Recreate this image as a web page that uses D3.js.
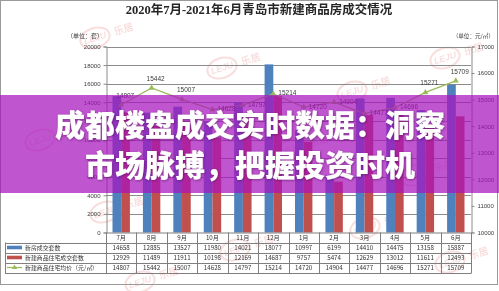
<!DOCTYPE html>
<html>
<head>
<meta charset="utf-8">
<script src="https://cdn.jsdelivr.net/npm/d3@7"></script>
<style>
  html, body { margin: 0; padding: 0; background: #fff; }
  svg { display: block; }
</style>
</head>
<body>
<svg id="chart" width="499" height="291"></svg>
<script>
// Monthly transactions, Qingdao, 2020-07 .. 2021-06
const months = ["7月","8月","9月","10月","11月","12月","1月","2月","3月","4月","5月","6月"];
const newHomeSales = [14658, 12885, 13527, 11980, 14021, 18077, 10997, 6199, 14410, 14475, 13158, 15887];
const residentialSales = [12929, 11489, 11911, 10198, 12169, 14687, 9757, 5474, 12629, 13012, 11611, 12493];
const residentialPrice = [14807, 15442, 15007, 14628, 14797, 15214, 14720, 14904, 14477, 14696, 15271, 15709];
const leftTicks = [0, 2000, 4000, 6000, 8000, 10000, 12000, 14000, 16000, 18000, 20000];
const rightTicks = [10000, 11000, 12000, 13000, 14000, 15000, 16000, 17000];
const seriesNames = ["新房成交套数", "新建商品住宅成交套数", "新建商品住宅均价（元/㎡）"];
// where each price label sits relative to its point
const priceLabelSide = ["top","top","top","right","right","right","right","right","right","right","top","top"];

const W = 499, H = 291;
const plot = { left: 106, right: 471, top: 46.5, bottom: 232.5 };
const COLORS = { blue: "#4f81bd", red: "#c0504d", green: "#9bbb59", grid: "#8c8c8c", text: "#404040" };
const SANS = "'Noto Sans CJK SC', 'Liberation Sans', sans-serif";

const svg = d3.select("#chart");
svg.append("rect").attr("width", W).attr("height", H).attr("fill", "#fff");

// faint site watermarks
const wmPos = [[95,38],[222,68],[352,92],[445,58],[40,140],[165,165],[290,150],[415,175],[105,212],[235,250],[365,228],[450,262],[140,282]];
const wm = svg.append("g").attr("opacity", 0.2);
wmPos.forEach(([cx, cy]) => {
  const g = wm.append("g").attr("transform", `translate(${cx},${cy}) rotate(-18)`);
  g.append("ellipse").attr("rx", 15).attr("ry", 10).attr("fill", "none")
    .attr("stroke", "#e05a5a").attr("stroke-width", 2);
  g.append("text").attr("x", 0).attr("y", 3).attr("text-anchor", "middle")
    .attr("font-family", "'Liberation Sans', sans-serif").attr("font-weight", 700)
    .attr("font-style", "italic").attr("font-size", 9).attr("fill", "#e05a5a").text("LEJU");
  g.append("text").attr("x", 20).attr("y", 4).attr("font-family", SANS).attr("font-weight", 700)
    .attr("font-size", 10).attr("fill", "#e05a5a").text("乐居");
});

// outer frame
svg.append("rect").attr("x", 0.5).attr("y", 0.5).attr("width", 497).attr("height", 284)
  .attr("fill", "none").attr("stroke", "#9a9a9a");

// title
svg.append("text").attr("x", 259).attr("y", 13.5).attr("text-anchor", "middle")
  .attr("font-family", "'Liberation Serif', 'Noto Sans CJK SC', serif").attr("font-weight", 700)
  .attr("font-size", 12.5).attr("fill", "#262626")
  .text("2020年7月-2021年6月青岛市新建商品房成交情况");

// unit labels
svg.append("text").attr("x", 103).attr("y", 37.5).attr("text-anchor", "end")
  .attr("font-family", SANS).attr("font-size", 6).attr("fill", COLORS.text).text("（单位：套）");
svg.append("text").attr("x", 494).attr("y", 37.5).attr("text-anchor", "end")
  .attr("font-family", SANS).attr("font-size", 5.6).attr("fill", COLORS.text).text("（单位：元/㎡）");

// scales
const x = d3.scaleBand().domain(months).range([plot.left, plot.right]);
const bw = x.bandwidth();
const sub = d3.scaleBand().domain(["a", "b"]).range([bw / 2 - 8.7, bw / 2 + 8.7]);
const yL = d3.scaleLinear().domain([0, 20000]).range([plot.bottom, plot.top]);
const yR = d3.scaleLinear().domain([10000, 17000]).range([plot.bottom, plot.top]);

// gridlines
svg.append("g").selectAll("line").data(leftTicks.slice(1)).join("line")
  .attr("x1", plot.left).attr("x2", plot.right)
  .attr("y1", d => Math.round(yL(d)) + 0.5).attr("y2", d => Math.round(yL(d)) + 0.5)
  .attr("stroke", COLORS.grid).attr("stroke-width", 1);

// left axis
const axL = svg.append("g").attr("transform", `translate(${plot.left + 0.5},0)`)
  .call(d3.axisLeft(yL).tickValues(leftTicks).tickSize(3).tickPadding(3).tickFormat(d3.format("d")));
axL.select(".domain").attr("stroke", COLORS.grid);
axL.selectAll(".tick line").attr("stroke", COLORS.grid);
axL.selectAll("text").attr("font-family", "'Liberation Sans', sans-serif").attr("font-size", 6).attr("fill", COLORS.text);

// right axis
const axR = svg.append("g").attr("transform", `translate(${plot.right + 0.5},0)`)
  .call(d3.axisRight(yR).tickValues(rightTicks).tickSize(3).tickPadding(3).tickFormat(d3.format("d")));
axR.select(".domain").attr("stroke", COLORS.grid);
axR.selectAll(".tick line").attr("stroke", COLORS.grid);
axR.selectAll("text").attr("font-family", "'Liberation Sans', sans-serif").attr("font-size", 6).attr("fill", COLORS.text);

// bars
const bars = svg.append("g");
bars.selectAll("rect.b").data(months).join("rect").attr("class", "b")
  .attr("x", d => x(d) + sub("a")).attr("width", sub.bandwidth())
  .attr("y", (d, i) => yL(newHomeSales[i])).attr("height", (d, i) => yL(0) - yL(newHomeSales[i]))
  .attr("fill", COLORS.blue);
bars.selectAll("rect.r").data(months).join("rect").attr("class", "r")
  .attr("x", d => x(d) + sub("b")).attr("width", sub.bandwidth())
  .attr("y", (d, i) => yL(residentialSales[i])).attr("height", (d, i) => yL(0) - yL(residentialSales[i]))
  .attr("fill", COLORS.red);

// average price line
const cx = i => x(months[i]) + bw / 2;
const line = d3.line().x((d, i) => cx(i)).y(d => yR(d));
svg.append("path").datum(residentialPrice).attr("d", line)
  .attr("fill", "none").attr("stroke", COLORS.green).attr("stroke-width", 1.3);
const tri = d3.symbol().type(d3.symbolTriangle).size(16);
svg.append("g").selectAll("path").data(residentialPrice).join("path")
  .attr("d", tri).attr("transform", (d, i) => `translate(${cx(i)},${yR(d)})`)
  .attr("fill", COLORS.green);
svg.append("g").selectAll("text").data(residentialPrice).join("text")
  .attr("x", (d, i) => priceLabelSide[i] === "top" ? cx(i) + 4 : cx(i) + 5)
  .attr("y", (d, i) => priceLabelSide[i] === "top" ? yR(d) - 7 : yR(d) + 1.5)
  .attr("text-anchor", (d, i) => priceLabelSide[i] === "top" ? "middle" : "start")
  .attr("font-family", "'Liberation Sans', sans-serif").attr("font-size", 6.5)
  .attr("fill", "#3a3a3a").text(d => d);

// data table
const tbl = svg.append("g");
const rowTop = plot.bottom, rowH = 10;
const tableLeft = 5;
const tLine = (x1, y1, x2, y2) => tbl.append("line").attr("x1", x1).attr("y1", y1).attr("x2", x2).attr("y2", y2)
  .attr("stroke", "#7f7f7f").attr("stroke-width", 1);
// horizontal rules
tLine(plot.left, rowTop + 0.5, plot.right + 0.5, rowTop + 0.5);
for (let r = 1; r <= 4; r++) {
  const yy = Math.round(rowTop + r * rowH) + 0.5;
  tLine(tableLeft, yy, plot.right + 0.5, yy);
}
// vertical rules
tLine(tableLeft + 0.5, rowTop + rowH, tableLeft + 0.5, rowTop + 4 * rowH + 0.5);
months.forEach(m => tLine(Math.round(x(m)) + 0.5, rowTop, Math.round(x(m)) + 0.5, rowTop + 4 * rowH + 0.5));
tLine(plot.right + 0.5, rowTop, plot.right + 0.5, rowTop + 4 * rowH + 0.5);

// header and cell values
const cellText = (tx, ty, s, anchor, size) => tbl.append("text").attr("x", tx).attr("y", ty)
  .attr("text-anchor", anchor || "middle").attr("font-family", SANS).attr("font-size", size || 6.2)
  .attr("fill", "#333").text(s);
months.forEach((m, i) => {
  cellText(cx(i), rowTop + 7.3, m);
  cellText(cx(i), rowTop + rowH + 7.3, newHomeSales[i]);
  cellText(cx(i), rowTop + 2 * rowH + 7.3, residentialSales[i]);
  cellText(cx(i), rowTop + 3 * rowH + 7.3, residentialPrice[i]);
});

// legend column
const legY = r => rowTop + (r + 1) * rowH + rowH / 2;
tbl.append("rect").attr("x", 7).attr("y", legY(0) - 1.8).attr("width", 15).attr("height", 3.6).attr("fill", COLORS.blue);
tbl.append("rect").attr("x", 7).attr("y", legY(1) - 1.8).attr("width", 15).attr("height", 3.6).attr("fill", COLORS.red);
tbl.append("line").attr("x1", 7).attr("x2", 22).attr("y1", legY(2)).attr("y2", legY(2))
  .attr("stroke", COLORS.green).attr("stroke-width", 1.2);
tbl.append("path").attr("d", d3.symbol().type(d3.symbolTriangle).size(12))
  .attr("transform", `translate(14.5,${legY(2)})`).attr("fill", COLORS.green);
seriesNames.forEach((s, r) => cellText(25, legY(r) + 2.1, s, "start", 5.9));

// promotional banner across the chart
svg.append("rect").attr("x", 0).attr("y", 95).attr("width", W).attr("height", 98)
  .attr("fill", "rgb(168,20,190)").attr("opacity", 0.72);
const defs = svg.append("defs");
const f = defs.append("filter").attr("id", "ts").attr("x", "-5%").attr("y", "-20%").attr("width", "110%").attr("height", "140%");
f.append("feDropShadow").attr("dx", 0.6).attr("dy", 0.8).attr("stdDeviation", 0.8)
  .attr("flood-color", "#3a0a40").attr("flood-opacity", 0.55);
const banner = svg.append("g").attr("filter", "url(#ts)");
["成都楼盘成交实时数据：洞察", "市场脉搏，把握投资时机"].forEach((s, i) => {
  banner.append("text").attr("x", 250).attr("y", 122.5 + i * 40)
    .attr("dominant-baseline", "central").attr("text-anchor", "middle")
    .attr("font-family", "'Noto Sans CJK SC', sans-serif").attr("font-weight", 900)
    .attr("font-size", 30).attr("fill", "#fff").text(s);
});
</script>
</body>
</html>
